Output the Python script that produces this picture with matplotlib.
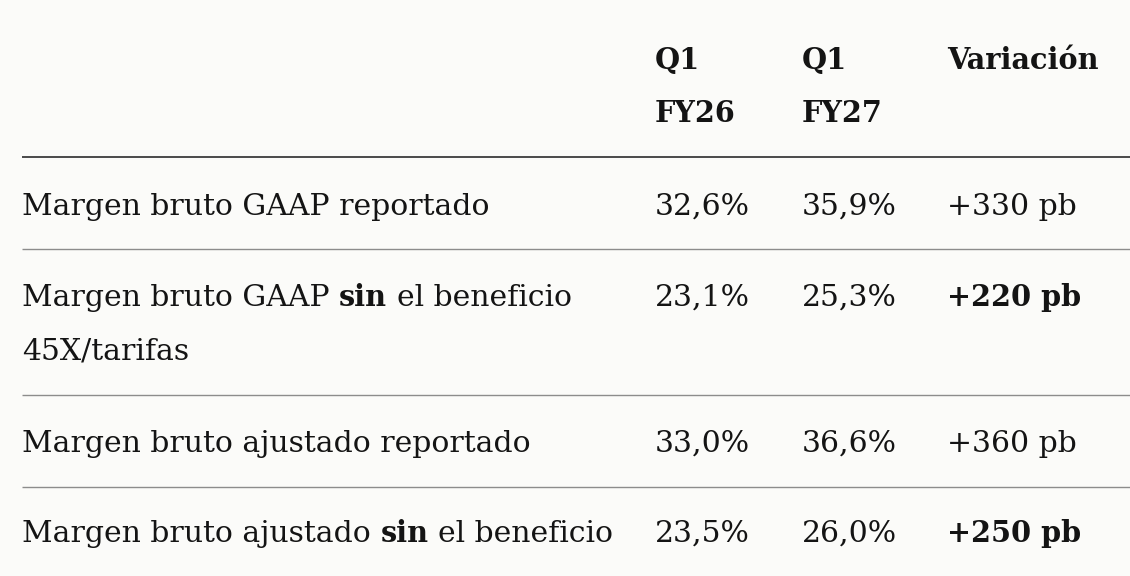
import matplotlib
matplotlib.use("Agg")
import matplotlib.pyplot as plt

# table content
header_cols = ["Q1\nFY26", "Q1\nFY27", "Variación"]
row_labels = [
    [("Margen bruto GAAP reportado", False)],
    [("Margen bruto GAAP ", False), ("sin", True), (" el beneficio\n45X/tarifas", False)],
    [("Margen bruto ajustado reportado", False)],
    [("Margen bruto ajustado ", False), ("sin", True), (" el beneficio", False)],
]
q1_fy26 = ["32,6%", "23,1%", "33,0%", "23,5%"]
q1_fy27 = ["35,9%", "25,3%", "36,6%", "26,0%"]
variacion = ["+330 pb", "+220 pb", "+360 pb", "+250 pb"]
bold_var = [False, True, False, True]

BG = "#fbfbf9"
INK = "#141414"
FONT = "DejaVu Serif"
SIZE = 21.5
BOLD_SIZE = 20.7

fig = plt.figure(figsize=(11.3, 5.76), dpi=100, facecolor=BG)
ax = fig.add_axes([0, 0, 1, 1])
ax.set_xlim(0, 1130)
ax.set_ylim(576, 0)
ax.axis("off")
ax.set_facecolor(BG)

col_x = [22, 655, 802, 947]
header_base = 69
line_gap = 53
row_base = [215, 306, 452, 542]
sep_y = [249, 395, 487]

renderer = fig.canvas.get_renderer()


def txt(x, y, s, bold=False):
    return ax.text(x, y, s, fontsize=BOLD_SIZE if bold else SIZE, family=FONT,
                   color=INK, fontweight="bold" if bold else "normal",
                   va="baseline", ha="left")


def width_px(s, bold):
    t = txt(0, 0, s, bold)
    w = t.get_window_extent(renderer).width
    t.remove()
    return w


def space_px(bold):
    return width_px("x x", bold) - width_px("xx", bold)


# header
for x, h in zip(col_x[1:], header_cols):
    for i, part in enumerate(h.split("\n")):
        txt(x, header_base + i * line_gap, part, bold=True)

ax.hlines(157, 22, 1130, color="#3c3c3c", lw=1.3)
for y in sep_y:
    ax.hlines(y, 22, 1130, color="#8c8c8c", lw=1.0)

for r, segs in enumerate(row_labels):
    x = col_x[0]
    y = row_base[r]
    for s, b in segs:
        lines = s.split("\n")
        first = lines[0]
        lead = len(first) - len(first.lstrip(" "))
        trail = len(first) - len(first.rstrip(" "))
        x += lead * space_px(b)
        core = first.strip(" ")
        txt(x, y, core, b)
        x += width_px(core, b) + trail * space_px(b)
        for k, extra in enumerate(lines[1:], start=1):
            txt(col_x[0], y + k * line_gap, extra, b)
    txt(col_x[1], y, q1_fy26[r])
    txt(col_x[2], y, q1_fy27[r])
    txt(col_x[3], y, variacion[r], bold_var[r])

fig.savefig("out.png", dpi=100, facecolor=BG)
